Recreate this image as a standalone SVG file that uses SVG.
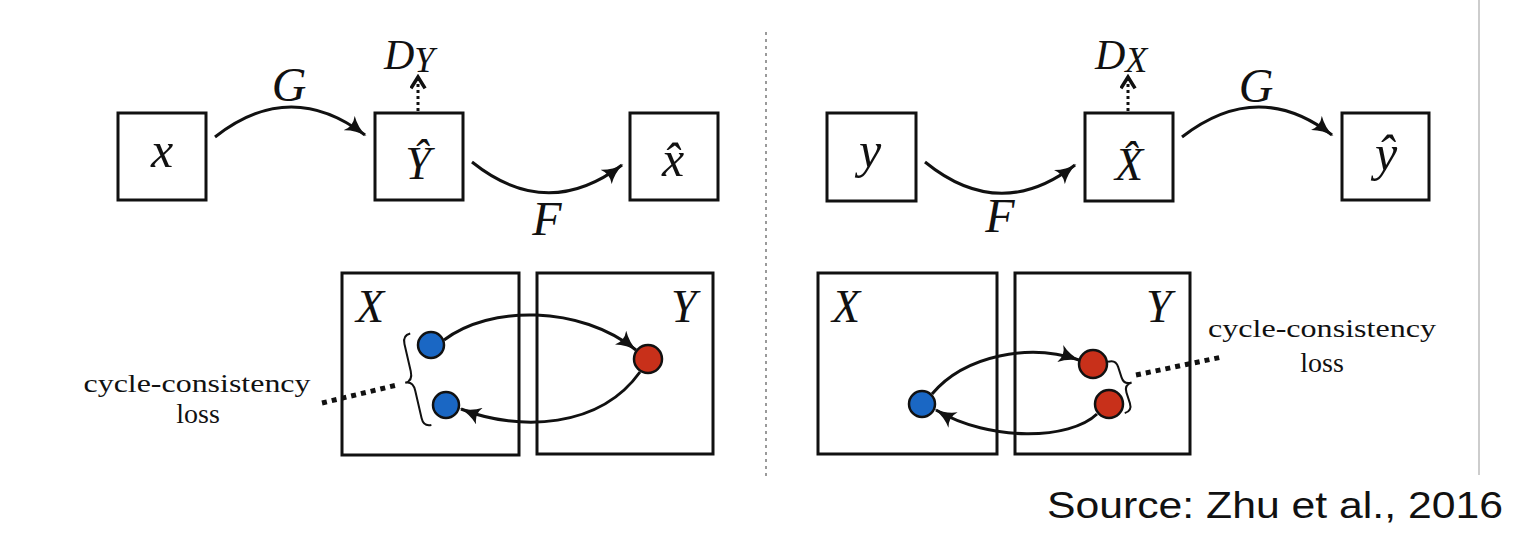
<svg xmlns="http://www.w3.org/2000/svg" width="1527" height="556" viewBox="0 0 1527 556">
<style>
.box{fill:none;stroke:#111;stroke-width:3}
.math{font-family:"Liberation Serif",serif;font-style:italic;fill:#111}
.rm{font-family:"Liberation Serif",serif;fill:#111}
.arc{fill:none;stroke:#111;stroke-width:3;marker-end:url(#ah)}
.darc{fill:none;stroke:#111;stroke-width:3;stroke-dasharray:3 3;marker-end:url(#oh)}
.dots{fill:none;stroke:#111;stroke-width:5;stroke-dasharray:5 5}
.brace{fill:none;stroke:#111;stroke-width:2}
.blue{fill:#1a67c4;stroke:#111;stroke-width:2.5}
.red{fill:#c8301a;stroke:#111;stroke-width:2.5}
</style>
<defs>
<marker id="ah" viewBox="0 0 12 10" refX="11" refY="5" markerWidth="22" markerHeight="18" markerUnits="userSpaceOnUse" orient="auto">
<path d="M0,0 Q5,4 12,5 Q5,6 0,10 Q3,5 0,0 Z" fill="#111"/>
</marker>
<marker id="oh" viewBox="0 0 12 12" refX="10" refY="6" markerWidth="17" markerHeight="17" markerUnits="userSpaceOnUse" orient="auto">
<path d="M2,1 L10,6 L2,11" fill="none" stroke="#111" stroke-width="2.5"/>
</marker>
</defs>

<!-- dividers -->
<line x1="766" y1="32" x2="766" y2="476" stroke="#9a9a9a" stroke-width="2" stroke-dasharray="3 4"/>
<line x1="1479" y1="0" x2="1479" y2="475" stroke="#bdbdbd" stroke-width="1.5"/>

<!-- left top -->
<g id="node-x"><rect class="box" x="118" y="113" width="88" height="87"/><text class="math" x="162" y="167" font-size="50" text-anchor="middle">x</text></g>
<g id="node-Yhat"><rect class="box" x="375" y="113" width="88" height="87"/><text class="math" x="418" y="179" font-size="46" text-anchor="middle">Ŷ</text></g>
<g id="node-xhat"><rect class="box" x="630" y="113" width="88" height="87"/><text class="math" x="673" y="176" font-size="50" text-anchor="middle">x̂</text></g>
<g id="label-DY"><text class="math" x="384" y="69" font-size="42">D<tspan font-size="36" dy="3">Y</tspan></text></g>

<!-- right top -->
<g id="node-y"><rect class="box" x="827" y="113" width="89" height="88"/><text class="math" x="870" y="167" font-size="50" text-anchor="middle">y</text></g>
<g id="node-Xhat"><rect class="box" x="1085" y="113" width="88" height="88"/><text class="math" x="1129" y="180" font-size="46" text-anchor="middle">X̂</text></g>
<g id="node-yhat"><rect class="box" x="1342" y="113" width="87" height="87"/><text class="math" x="1386" y="170" font-size="50" text-anchor="middle">ŷ</text></g>
<g id="label-DX"><text class="math" x="1095" y="69" font-size="42">D<tspan font-size="36" dy="3">X</tspan></text></g>

<!-- bottom left -->
<g id="domain-X-left"><rect class="box" x="342" y="273" width="177" height="182"/><text class="math" x="356" y="322" font-size="46">X</text></g>
<g id="domain-Y-left"><rect class="box" x="537" y="273" width="176" height="181"/><text class="math" x="671" y="322" font-size="46">Y</text></g>
<g id="pt-x1"><circle class="blue" cx="431" cy="345" r="13"/></g>
<g id="pt-x2"><circle class="blue" cx="446" cy="405" r="13"/></g>
<g id="pt-y1"><circle class="red" cx="648" cy="359" r="14"/></g>
<g id="brace-left"><path class="brace" transform="translate(413,381) rotate(-13)" d="M8,-47 Q0,-47 0,-38 L0,-10 Q0,0 -8,0 Q0,0 0,10 L0,38 Q0,47 8,47"/></g>
<g id="loss-left"><text class="rm" x="197" y="392" font-size="26" text-anchor="middle" textLength="227" lengthAdjust="spacingAndGlyphs">cycle-consistency</text><text class="rm" x="198" y="423" font-size="28" text-anchor="middle">loss</text></g>

<!-- bottom right -->
<g id="domain-X-right"><rect class="box" x="818" y="273" width="179" height="181"/><text class="math" x="832" y="322" font-size="46">X</text></g>
<g id="domain-Y-right"><rect class="box" x="1015" y="273" width="175" height="181"/><text class="math" x="1146" y="322" font-size="46">Y</text></g>
<g id="pt-x3"><circle class="blue" cx="922" cy="404" r="13"/></g>
<g id="pt-y2"><circle class="red" cx="1093" cy="364" r="14"/></g>
<g id="pt-y3"><circle class="red" cx="1109" cy="404" r="14"/></g>
<g id="brace-right"><path class="brace" transform="translate(1124,385) rotate(-18)" d="M-8,-27 Q0,-27 0,-19 L0,-8 Q0,0 8,0 Q0,0 0,8 L0,19 Q0,27 -8,27"/></g>
<g id="loss-right"><text class="rm" x="1322" y="337" font-size="26" text-anchor="middle" textLength="228" lengthAdjust="spacingAndGlyphs">cycle-consistency</text><text class="rm" x="1322" y="372" font-size="28" text-anchor="middle">loss</text></g>

<!-- connectors -->
<g id="connectors">
<path class="arc" d="M215,137 Q290,78 365,135"/>
<path class="arc" d="M472,162 Q547,222 622,165"/>
<path class="darc" d="M418,111 L418,77"/>
<path class="arc" d="M925,162 Q1000,223 1075,165"/>
<path class="arc" d="M1182,137 Q1258,78 1332,135"/>
<path class="darc" d="M1128,111 L1128,77"/>
<path class="arc" d="M444,340 C490,305 580,305 636,350"/>
<path class="arc" d="M640,372 C600,428 520,432 461,409"/>
<path class="arc" d="M932,394 C965,355 1030,343 1079,360"/>
<path class="arc" d="M1097,414 C1070,440 990,442 936,410"/>
<path class="dots" d="M322,403 L397,385"/>
<path class="dots" d="M1136,375 L1222,357"/>
</g>
<g id="edge-labels">
<text class="math" x="289" y="101" font-size="48" text-anchor="middle">G</text>
<text class="math" x="547" y="235" font-size="48" text-anchor="middle">F</text>
<text class="math" x="1000" y="232" font-size="48" text-anchor="middle">F</text>
<text class="math" x="1256" y="102" font-size="48" text-anchor="middle">G</text>
</g>

<text id="source" x="1047" y="518" font-family="Liberation Sans, Arial, sans-serif" font-size="36" fill="#111" textLength="456" lengthAdjust="spacingAndGlyphs">Source: Zhu et al., 2016</text>
</svg>
